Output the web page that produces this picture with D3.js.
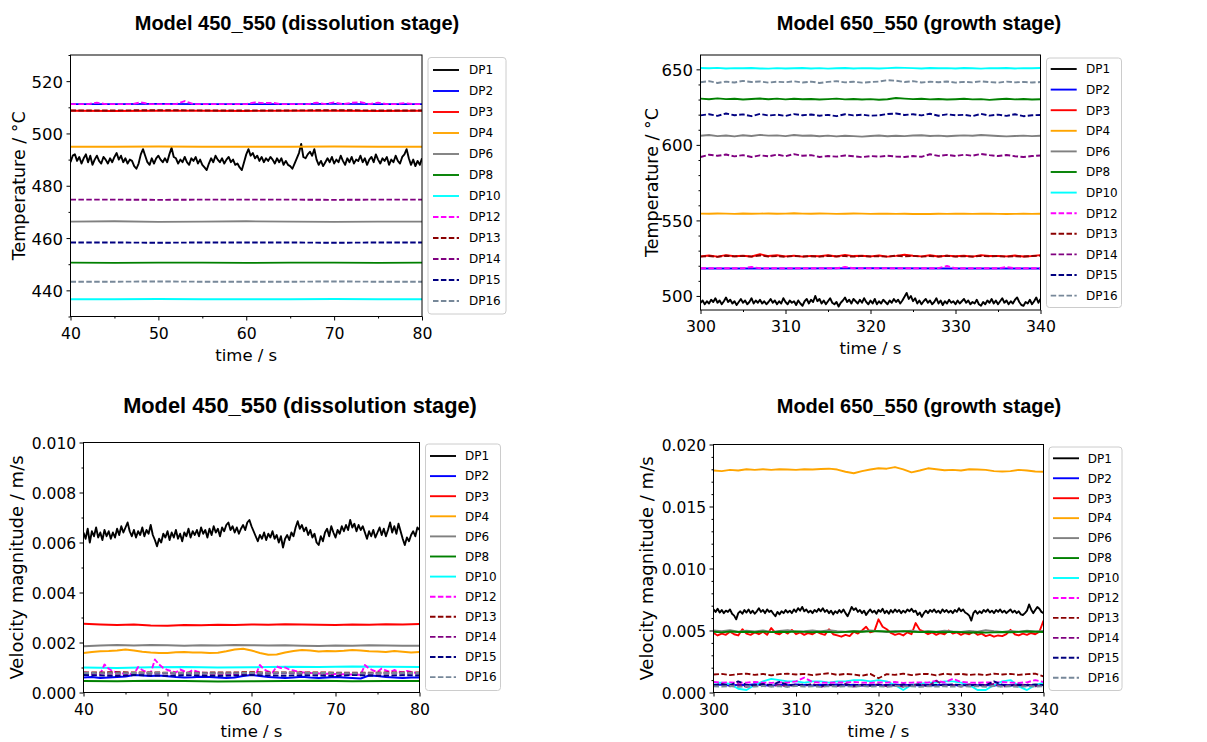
<!DOCTYPE html>
<html>
<head>
<meta charset="utf-8">
<script src="https://cdn.jsdelivr.net/npm/d3@7"></script>
<style>
  body { margin: 0; background: #fff; }
  svg { display: block; }
</style>
</head>
<body>
<script>
// ---------------- data ----------------
const dpNames = ["DP1", "DP2", "DP3", "DP4", "DP6", "DP8", "DP10", "DP12", "DP13", "DP14", "DP15", "DP16"];
const dpColors = ["#000000", "#0000ff", "#ff0000", "#ffa500", "#808080", "#008000", "#00ffff", "#ff00ff", "#8b0000", "#800080", "#000080", "#778899"];
const dpDashed = [false, false, false, false, false, false, false, true, true, true, true, true];

const span450 = [40, 80];
const span650 = [300, 340];
const xTicks450 = [40, 50, 60, 70, 80];
const xTicks650 = [300, 310, 320, 330, 340];

const temp450Domain = [430, 530];
const temp450Ticks = [440, 460, 480, 500, 520];
const temp650Domain = [490.7, 659.5];
const temp650Ticks = [500, 550, 600, 650];
const vel450Domain = [0, 0.010];
const vel450Ticks = [0, 0.002, 0.004, 0.006, 0.008, 0.010];
const vel650Domain = [0, 0.020];
const vel650Ticks = [0, 0.005, 0.010, 0.015, 0.020];

// temperature, model 450_550 (each series evenly spread over span450)
const temp450DP1 = [
  489.0,491.5,492.0,489.5,491.0,488.5,490.5,492.0,489.0,491.5,
  488.0,490.0,491.5,489.5,488.5,491.0,490.0,488.5,490.5,489.0,
  491.0,492.5,490.0,491.5,489.0,490.5,488.5,490.0,489.5,487.5,
  486.5,488.5,492.0,494.0,491.5,489.0,488.0,490.5,488.5,490.5,
  491.5,490.0,489.0,490.5,489.0,492.0,494.5,491.0,490.5,488.5,
  490.0,489.0,491.0,489.0,488.0,490.5,489.5,491.0,488.5,490.0,
  488.0,487.0,486.0,488.5,490.5,489.0,491.5,490.0,489.0,490.5,
  488.5,490.0,491.0,489.0,490.0,488.0,488.5,487.0,486.0,489.0,
  492.0,494.0,491.5,492.5,490.5,491.5,489.5,491.0,489.0,490.5,
  489.5,491.0,490.0,488.5,490.5,489.0,490.5,488.0,489.5,488.0,
  487.5,486.5,488.5,490.5,492.5,496.0,491.0,490.5,492.0,493.0,
  491.5,494.0,490.0,488.0,489.5,487.5,489.0,490.5,489.0,491.0,
  488.5,490.0,489.0,491.5,489.5,488.0,490.5,489.0,491.0,488.5,
  490.0,489.5,491.5,489.0,490.5,488.0,490.0,491.0,489.0,492.0,
  490.0,488.5,490.5,489.5,491.0,488.0,490.0,489.0,491.5,489.5,
  488.5,491.0,492.0,494.0,490.5,488.0,490.0,487.5,489.5,488.0,
  490.5
];
const temp450DP2 = [511.2, 511.2, 511.3, 511.2, 511.2, 511.2, 511.3, 511.2, 511.2];
const temp450DP3 = [508.7, 508.6, 508.7, 508.7, 508.6, 508.7, 508.7, 508.6, 508.7];
const temp450DP4 = [494.9, 494.9, 495.0, 494.9, 494.9, 494.9, 495.0, 494.9, 494.9];
const temp450DP6 = [466.3, 466.4, 466.2, 466.3, 466.4, 466.3, 466.2, 466.3, 466.3];
const temp450DP8 = [450.6, 450.5, 450.6, 450.6, 450.5, 450.6, 450.6, 450.5, 450.6];
const temp450DP10 = [436.6, 436.6, 436.7, 436.6, 436.6, 436.6, 436.7, 436.6, 436.6];
const temp450DP12 = [
  511.2,511.2,511.2,511.8,511.2,511.2,511.2,511.2,511.9,511.2,
  511.2,511.2,511.2,512.4,511.2,511.2,511.2,511.2,511.2,511.2,
  511.2,511.9,511.6,511.7,511.2,511.2,511.2,511.2,511.8,511.2,
  511.9,511.2,511.7,512.0,511.2,511.8,511.2,511.2,511.6,511.2,
  511.2
];
const temp450DP13 = [508.8, 508.8, 508.9, 508.8, 508.8, 508.8, 508.9, 508.8, 508.8];
const temp450DP14 = [474.7, 474.7, 474.6, 474.7, 474.7, 474.7, 474.6, 474.7, 474.7];
const temp450DP15 = [458.3, 458.3, 458.2, 458.3, 458.3, 458.3, 458.2, 458.3, 458.3];
const temp450DP16 = [443.3, 443.3, 443.4, 443.3, 443.3, 443.3, 443.4, 443.3, 443.3];

// temperature, model 650_550
const temp650DP1 = [
  495.5,497.0,494.5,496.5,495.0,497.5,496.0,498.5,495.5,497.0,
  494.5,496.5,499.0,496.0,497.5,495.0,496.5,494.0,496.0,498.0,
  495.5,497.0,494.5,496.0,498.5,495.0,497.0,495.5,497.5,495.0,
  496.5,494.5,496.0,498.0,495.5,497.0,494.5,496.5,495.0,498.5,
  496.0,494.5,497.0,495.5,496.5,494.0,497.0,495.0,493.5,496.5,
  498.0,495.0,497.5,496.0,500.0,496.5,498.0,495.0,497.0,494.5,
  496.5,498.5,495.5,494.5,496.0,493.0,495.5,497.0,499.0,496.0,
  497.5,495.0,498.0,496.5,495.0,497.5,495.5,498.5,496.0,494.5,
  497.0,495.0,498.0,494.5,496.5,495.0,497.5,496.0,494.5,497.0,
  495.5,498.0,496.0,497.5,495.0,497.0,499.5,502.0,498.0,500.0,
  496.5,498.5,495.0,497.0,494.5,496.5,498.0,495.5,497.0,494.5,
  496.0,498.5,495.0,497.0,494.0,496.5,495.0,497.5,495.5,496.5,
  494.5,497.0,495.0,496.5,498.0,495.5,497.0,494.5,496.0,495.0,
  497.5,494.5,493.5,496.0,494.5,497.0,495.5,498.0,495.0,497.0,
  494.5,496.5,498.5,495.5,497.0,494.5,496.5,495.0,497.5,499.0,
  496.0,494.0,493.5,496.0,495.0,497.5,494.5,496.5,499.0,495.5,
  498.0
];
const temp650DP2 = [518.2, 518.2, 518.3, 518.2, 518.2];
const temp650DP3 = [
  526.2,526.8,526.0,527.0,526.3,526.6,526.1,527.6,526.4,526.9,
  526.2,526.7,526.0,526.5,526.3,526.9,526.1,527.2,526.4,526.6,
  526.2,526.8,526.0,526.5,527.3,526.6,526.2,526.9,526.1,526.7,
  526.3,526.6,526.0,527.0,526.4,526.5,526.2,526.8,526.1,526.4,
  527.0
];
const temp650DP4 = [
  554.5,554.4,554.6,554.5,554.3,554.6,554.4,554.5,554.6,554.4,
  554.5,554.7,554.5,554.4,554.6,554.5,554.3,554.4,554.6,554.5,
  554.3,554.4,554.5,554.3,554.4,554.2,554.3,554.2,554.4,554.3,
  554.5,554.4,554.3,554.5,554.4,554.3,554.2,554.3,554.4,554.3,
  554.4
];
const temp650DP6 = [
  606.0,606.5,605.8,606.2,605.6,606.4,605.9,606.6,606.1,606.3,
  605.8,606.5,606.0,606.2,605.7,606.1,605.6,606.0,605.8,605.5,
  605.9,606.2,605.7,606.0,605.8,606.2,606.4,605.9,606.1,605.7,
  606.0,606.3,606.0,606.5,606.2,605.9,605.6,605.9,606.1,605.8,
  606.0
];
const temp650DP8 = [
  630.6,630.2,630.8,630.3,630.5,630.0,630.4,630.7,630.2,630.6,
  630.1,630.5,630.2,630.4,630.0,630.3,630.6,630.1,630.4,630.0,
  630.3,629.9,630.2,631.0,630.6,630.3,630.5,630.1,630.4,630.0,
  630.2,630.5,630.1,630.3,629.8,630.2,630.5,630.1,630.4,630.0,
  630.2
];
const temp650DP10 = [
  650.9,650.7,651.0,650.6,650.8,650.7,650.9,650.6,650.5,650.8,
  650.6,650.7,650.9,650.6,650.8,650.5,650.7,650.9,650.6,650.8,
  650.7,650.6,650.8,651.1,651.0,650.8,650.6,650.9,650.7,650.8,
  650.6,650.9,650.7,650.5,650.8,650.7,650.9,650.6,650.8,650.7,
  650.9
];
const temp650DP12 = [
  518.3,518.3,518.4,518.3,518.3,518.3,519.2,518.3,518.3,518.4,
  518.3,518.3,518.3,518.3,518.4,518.3,518.3,519.2,518.3,518.3,
  518.3,518.3,518.4,518.3,518.3,518.3,518.3,518.3,518.4,519.8,
  518.3,518.3,518.3,518.4,518.3,518.3,519.1,518.3,518.3,518.3,
  518.3
];
const temp650DP13 = [
  526.0,526.4,525.9,526.6,526.2,526.5,526.0,526.8,526.1,526.4,
  525.9,526.5,526.1,526.3,526.0,526.6,526.2,526.4,526.0,526.5,
  526.1,526.3,526.0,526.7,526.2,526.5,526.0,526.4,526.1,526.6,
  526.0,526.3,526.1,526.5,526.2,526.4,526.0,526.3,526.1,526.4,
  526.6
];
const temp650DP14 = [
  592.0,593.5,592.8,593.6,592.4,593.2,592.0,593.1,592.4,593.6,
  592.5,593.9,592.8,593.2,592.0,592.6,592.2,593.0,592.5,591.9,
  592.6,592.2,592.8,592.3,592.0,592.6,592.1,593.8,592.7,593.4,
  592.6,593.5,592.8,594.0,593.2,592.6,593.3,592.5,592.0,592.6,
  593.0
];
const temp650DP15 = [
  619.5,620.3,619.2,620.8,619.6,620.2,619.0,620.5,619.4,620.0,
  619.2,620.4,619.6,620.1,619.3,619.9,619.0,620.3,619.5,620.0,
  619.3,619.6,620.4,620.8,619.8,620.3,619.5,620.6,619.3,620.2,
  619.6,619.9,619.1,620.5,619.4,620.0,619.2,620.3,619.0,619.6,
  619.8
];
const temp650DP16 = [
  641.5,642.2,641.0,641.9,641.3,642.4,641.6,642.0,641.2,641.8,
  641.5,642.1,641.3,641.9,641.0,641.7,642.2,641.4,641.8,641.2,
  641.6,641.9,642.8,642.5,641.6,642.2,641.3,641.8,641.5,642.0,
  641.2,641.7,641.4,642.1,641.6,641.2,641.9,641.4,641.7,641.3,
  641.6
];

// velocity magnitude, model 450_550
const vel450DP1 = [
  0.00640,0.00615,0.00655,0.00600,0.00645,0.00625,0.00660,0.00620,0.00640,0.00610,
  0.00650,0.00625,0.00645,0.00615,0.00640,0.00620,0.00655,0.00630,0.00665,0.00640,
  0.00660,0.00680,0.00645,0.00625,0.00650,0.00620,0.00645,0.00630,0.00660,0.00625,
  0.00650,0.00635,0.00670,0.00630,0.00610,0.00585,0.00615,0.00600,0.00635,0.00620,
  0.00645,0.00610,0.00640,0.00620,0.00650,0.00615,0.00635,0.00605,0.00640,0.00625,
  0.00655,0.00620,0.00645,0.00630,0.00650,0.00625,0.00660,0.00635,0.00650,0.00620,
  0.00655,0.00630,0.00665,0.00640,0.00655,0.00625,0.00660,0.00645,0.00670,0.00680,
  0.00650,0.00665,0.00640,0.00660,0.00635,0.00655,0.00670,0.00650,0.00680,0.00690,
  0.00665,0.00645,0.00625,0.00605,0.00630,0.00615,0.00640,0.00610,0.00635,0.00620,
  0.00645,0.00615,0.00630,0.00600,0.00625,0.00580,0.00615,0.00630,0.00610,0.00640,
  0.00625,0.00660,0.00685,0.00655,0.00670,0.00645,0.00660,0.00630,0.00650,0.00620,
  0.00635,0.00600,0.00590,0.00625,0.00605,0.00640,0.00655,0.00625,0.00665,0.00640,
  0.00620,0.00650,0.00635,0.00665,0.00645,0.00670,0.00650,0.00690,0.00660,0.00675,
  0.00645,0.00670,0.00650,0.00665,0.00640,0.00615,0.00645,0.00625,0.00650,0.00620,
  0.00640,0.00660,0.00630,0.00655,0.00625,0.00650,0.00680,0.00640,0.00665,0.00635,
  0.00675,0.00645,0.00615,0.00590,0.00620,0.00605,0.00630,0.00645,0.00625,0.00660,
  0.00650
];
const vel450DP2 = [
  0.00060,0.00062,0.00058,0.00060,0.00062,0.00064,0.00070,0.00068,0.00066,0.00068,
  0.00065,0.00062,0.00060,0.00061,0.00063,0.00062,0.00060,0.00058,0.00060,0.00066,
  0.00070,0.00066,0.00062,0.00060,0.00058,0.00060,0.00063,0.00060,0.00058,0.00060,
  0.00062,0.00060,0.00058,0.00056,0.00068,0.00066,0.00062,0.00060,0.00058,0.00060,
  0.00060
];
const vel450DP3 = [
  0.00275,0.00272,0.00270,0.00272,0.00268,0.00267,0.00270,0.00269,0.00271,0.00270,
  0.00272,0.00271,0.00273,0.00272,0.00271,0.00270,0.00272,0.00271,0.00273,0.00272,
  0.00274
];
const vel450DP4 = [
  0.00158,0.00162,0.00165,0.00166,0.00168,0.00172,0.00168,0.00163,0.00160,0.00158,
  0.00158,0.00161,0.00162,0.00160,0.00160,0.00158,0.00159,0.00165,0.00172,0.00175,
  0.00168,0.00158,0.00151,0.00152,0.00160,0.00166,0.00170,0.00168,0.00164,0.00166,
  0.00165,0.00167,0.00170,0.00168,0.00165,0.00164,0.00162,0.00166,0.00163,0.00160,
  0.00162
];
const vel450DP6 = [
  0.00185,0.00188,0.00190,0.00188,0.00190,0.00189,0.00187,0.00189,0.00188,0.00190,
  0.00189,0.00188,0.00189,0.00187,0.00186,0.00188,0.00187,0.00189,0.00188,0.00187,
  0.00187
];
const vel450DP8 = [0.00046, 0.00045, 0.00047, 0.00046, 0.00044, 0.00045, 0.00046, 0.00047, 0.00045, 0.00046, 0.00046];
const vel450DP10 = [0.00100, 0.00098, 0.00101, 0.00102, 0.00100, 0.00101, 0.00103, 0.00102, 0.00104, 0.00103, 0.00102];
const vel450DP12 = [
  0.00080,0.00078,0.00076,0.00075,0.00074,0.00112,0.00095,0.00085,0.00080,0.00077,
  0.00075,0.00074,0.00073,0.00102,0.00090,0.00082,0.00078,0.00132,0.00112,0.00098,
  0.00090,0.00085,0.00080,0.00092,0.00085,0.00080,0.00090,0.00084,0.00080,0.00078,
  0.00077,0.00076,0.00075,0.00075,0.00074,0.00074,0.00073,0.00073,0.00072,0.00072,
  0.00072,0.00071,0.00110,0.00092,0.00084,0.00080,0.00104,0.00098,0.00100,0.00092,
  0.00088,0.00084,0.00081,0.00079,0.00078,0.00077,0.00076,0.00075,0.00075,0.00074,
  0.00074,0.00073,0.00073,0.00072,0.00072,0.00071,0.00071,0.00110,0.00096,0.00088,
  0.00082,0.00096,0.00088,0.00082,0.00090,0.00084,0.00080,0.00086,0.00082,0.00079,
  0.00077
];
const vel450DP13 = [0.00080, 0.00081, 0.00080, 0.00079, 0.00080, 0.00081, 0.00080, 0.00080, 0.00079, 0.00080, 0.00080];
const vel450DP14 = [0.00076, 0.00075, 0.00077, 0.00076, 0.00075, 0.00076, 0.00077, 0.00076, 0.00075, 0.00076, 0.00076];
const vel450DP15 = [
  0.00070,0.00068,0.00066,0.00070,0.00068,0.00067,0.00069,0.00068,0.00066,0.00068,
  0.00070,0.00068,0.00067,0.00069,0.00068,0.00066,0.00070,0.00068,0.00067,0.00069,
  0.00068
];
const vel450DP16 = [0.00078, 0.00077, 0.00079, 0.00078, 0.00077, 0.00078, 0.00079, 0.00078, 0.00077, 0.00078, 0.00078];

// velocity magnitude, model 650_550
const vel650DP1 = [
  0.00670,0.00650,0.00675,0.00645,0.00665,0.00640,0.00660,0.00650,0.00670,0.00635,
  0.00620,0.00590,0.00640,0.00655,0.00635,0.00665,0.00645,0.00670,0.00640,0.00660,
  0.00635,0.00655,0.00680,0.00650,0.00665,0.00640,0.00670,0.00650,0.00660,0.00635,
  0.00615,0.00650,0.00630,0.00655,0.00640,0.00665,0.00645,0.00660,0.00640,0.00670,
  0.00650,0.00680,0.00660,0.00690,0.00655,0.00670,0.00645,0.00660,0.00640,0.00665,
  0.00650,0.00675,0.00655,0.00680,0.00650,0.00665,0.00640,0.00660,0.00630,0.00655,
  0.00640,0.00665,0.00645,0.00670,0.00640,0.00615,0.00650,0.00690,0.00665,0.00680,
  0.00650,0.00665,0.00640,0.00660,0.00625,0.00650,0.00670,0.00645,0.00660,0.00635,
  0.00665,0.00650,0.00675,0.00640,0.00660,0.00635,0.00665,0.00645,0.00670,0.00650,
  0.00665,0.00640,0.00660,0.00645,0.00670,0.00655,0.00675,0.00650,0.00660,0.00625,
  0.00645,0.00610,0.00640,0.00660,0.00640,0.00665,0.00650,0.00670,0.00645,0.00660,
  0.00640,0.00670,0.00650,0.00665,0.00645,0.00660,0.00640,0.00665,0.00650,0.00680,
  0.00655,0.00670,0.00645,0.00635,0.00620,0.00580,0.00640,0.00660,0.00635,0.00655,
  0.00640,0.00665,0.00650,0.00670,0.00645,0.00660,0.00640,0.00665,0.00650,0.00670,
  0.00645,0.00660,0.00640,0.00655,0.00670,0.00645,0.00660,0.00640,0.00655,0.00630,
  0.00625,0.00640,0.00660,0.00710,0.00670,0.00640,0.00665,0.00690,0.00675,0.00650,
  0.00640
];
const vel650DP2 = [
  0.00060,0.00065,0.00055,0.00062,0.00058,0.00066,0.00060,0.00055,0.00063,0.00058,
  0.00064,0.00060,0.00056,0.00062,0.00059,0.00065,0.00058,0.00062,0.00056,0.00063,
  0.00060,0.00057,0.00064,0.00059,0.00062,0.00056,0.00061,0.00058,0.00065,0.00060,
  0.00057,0.00063,0.00058,0.00061,0.00056,0.00062,0.00059,0.00064,0.00058,0.00061,
  0.00060
];
const vel650DP3 = [
  0.00480,0.00460,0.00475,0.00465,0.00490,0.00470,0.00460,0.00510,0.00475,0.00465,
  0.00485,0.00470,0.00490,0.00465,0.00520,0.00480,0.00470,0.00495,0.00475,0.00505,
  0.00470,0.00485,0.00465,0.00480,0.00470,0.00490,0.00475,0.00465,0.00510,0.00470,
  0.00460,0.00450,0.00465,0.00455,0.00490,0.00475,0.00500,0.00530,0.00485,0.00495,
  0.00590,0.00530,0.00510,0.00480,0.00465,0.00475,0.00460,0.00485,0.00470,0.00560,
  0.00505,0.00490,0.00470,0.00485,0.00465,0.00480,0.00470,0.00500,0.00475,0.00485,
  0.00465,0.00480,0.00470,0.00490,0.00465,0.00475,0.00455,0.00465,0.00450,0.00460,
  0.00455,0.00470,0.00505,0.00470,0.00460,0.00475,0.00465,0.00480,0.00470,0.00490,
  0.00580
];
const vel650DP4 = [
  0.01790,0.01785,0.01795,0.01790,0.01800,0.01795,0.01800,0.01795,0.01800,0.01798,
  0.01795,0.01800,0.01798,0.01802,0.01805,0.01798,0.01780,0.01768,0.01785,0.01798,
  0.01808,0.01805,0.01818,0.01800,0.01775,0.01790,0.01808,0.01800,0.01792,0.01795,
  0.01790,0.01800,0.01798,0.01795,0.01785,0.01782,0.01785,0.01795,0.01790,0.01782,
  0.01780
];
const vel650DP6 = [
  0.00500,0.00495,0.00502,0.00490,0.00498,0.00492,0.00500,0.00488,0.00496,0.00502,
  0.00490,0.00494,0.00500,0.00492,0.00503,0.00495,0.00490,0.00497,0.00492,0.00500,
  0.00494,0.00488,0.00496,0.00492,0.00499,0.00491,0.00495,0.00490,0.00498,0.00492,
  0.00488,0.00496,0.00490,0.00502,0.00494,0.00489,0.00497,0.00490,0.00498,0.00493,
  0.00496
];
const vel650DP8 = [
  0.00490,0.00485,0.00492,0.00488,0.00490,0.00486,0.00491,0.00487,0.00490,0.00488,
  0.00492,0.00489,0.00486,0.00490,0.00488,0.00485,0.00489,0.00492,0.00490,0.00493,
  0.00495,0.00492,0.00489,0.00495,0.00490,0.00487,0.00490,0.00488,0.00486,0.00489,
  0.00487,0.00484,0.00486,0.00483,0.00485,0.00488,0.00486,0.00489,0.00492,0.00490,
  0.00488
];
const vel650DP10 = [
  0.00080,0.00080,0.00070,0.00030,0.00020,0.00060,0.00090,0.00110,0.00100,0.00090,
  0.00090,0.00080,0.00090,0.00090,0.00080,0.00090,0.00090,0.00100,0.00100,0.00090,
  0.00100,0.00090,0.00060,0.00020,0.00060,0.00070,0.00080,0.00080,0.00090,0.00090,
  0.00080,0.00060,0.00020,0.00020,0.00060,0.00090,0.00100,0.00050,0.00020,0.00060,
  0.00080
];
const vel650DP12 = [
  0.00085,0.00080,0.00082,0.00078,0.00080,0.00085,0.00080,0.00078,0.00082,0.00080,
  0.00090,0.00120,0.00085,0.00080,0.00078,0.00082,0.00080,0.00085,0.00080,0.00078,
  0.00082,0.00080,0.00085,0.00078,0.00080,0.00082,0.00080,0.00095,0.00082,0.00110,
  0.00085,0.00080,0.00078,0.00082,0.00080,0.00085,0.00080,0.00078,0.00082,0.00100,
  0.00085
];
const vel650DP13 = [
  0.00145,0.00150,0.00140,0.00148,0.00152,0.00142,0.00150,0.00138,0.00148,0.00152,
  0.00145,0.00150,0.00140,0.00148,0.00155,0.00142,0.00150,0.00145,0.00135,0.00150,
  0.00115,0.00148,0.00142,0.00152,0.00140,0.00148,0.00150,0.00138,0.00152,0.00145,
  0.00150,0.00142,0.00148,0.00140,0.00152,0.00145,0.00150,0.00142,0.00148,0.00152,
  0.00130
];
const vel650DP14 = [
  0.00055,0.00070,0.00050,0.00065,0.00045,0.00060,0.00070,0.00050,0.00062,0.00048,
  0.00065,0.00055,0.00070,0.00045,0.00060,0.00052,0.00068,0.00048,0.00060,0.00055,
  0.00065,0.00050,0.00062,0.00045,0.00058,0.00068,0.00050,0.00095,0.00055,0.00062,
  0.00048,0.00065,0.00052,0.00060,0.00070,0.00045,0.00062,0.00055,0.00065,0.00050,
  0.00060
];
const vel650DP15 = [
  0.00060,0.00065,0.00058,0.00090,0.00062,0.00058,0.00066,0.00060,0.00085,0.00062,
  0.00058,0.00064,0.00060,0.00056,0.00062,0.00059,0.00065,0.00058,0.00062,0.00056,
  0.00063,0.00060,0.00057,0.00064,0.00059,0.00062,0.00056,0.00061,0.00058,0.00065,
  0.00060,0.00057,0.00063,0.00058,0.00090,0.00061,0.00056,0.00062,0.00059,0.00064,
  0.00060
];
const vel650DP16 = [
  0.00050,0.00048,0.00052,0.00045,0.00050,0.00047,0.00052,0.00048,0.00050,0.00046,
  0.00052,0.00048,0.00050,0.00045,0.00051,0.00048,0.00050,0.00047,0.00052,0.00048,
  0.00050,0.00046,0.00052,0.00048,0.00050,0.00045,0.00051,0.00048,0.00050,0.00047,
  0.00052,0.00048,0.00050,0.00046,0.00052,0.00048,0.00050,0.00045,0.00051,0.00048,
  0.00050
];

// ---------------- panels ----------------
const panels = [
  {
    title: "Model 450_550 (dissolution stage)", titleX: 297, titleY: 30, titleSize: 20,
    yLabel: "Temperature / °C", yLabelX: 25, yLabelSize: 17.5, yTickSize: 16.5,
    span: span450, xTicks: xTicks450, xMinor: 5,
    yDomain: temp450Domain, yTicks: temp450Ticks, yMinor: 10, fmt: d3.format("d"),
    frame: { x0: 70.5, x1: 422, y0: 55, y1: 316.5 },
    legend: { x0: 428, x1: 506, y0: 57.5, y1: 314, first: 70, gap: 21, lineX: 433, textX: 469 },
    series: [temp450DP1, temp450DP2, temp450DP3, temp450DP4, temp450DP6, temp450DP8,
             temp450DP10, temp450DP12, temp450DP13, temp450DP14, temp450DP15, temp450DP16]
  },
  {
    title: "Model 650_550 (growth stage)", titleX: 919, titleY: 30, titleSize: 20,
    yLabel: "Temperature / °C", yLabelX: 657.5, yLabelSize: 17.5, yTickSize: 16.5,
    span: span650, xTicks: xTicks650, xMinor: 5,
    yDomain: temp650Domain, yTicks: temp650Ticks, yMinor: 10, fmt: d3.format("d"),
    frame: { x0: 700.5, x1: 1040.5, y0: 55, y1: 310 },
    legend: { x0: 1046.5, x1: 1121.5, y0: 58, y1: 307.5, first: 69, gap: 20.6, lineX: 1050.7, textX: 1086 },
    series: [temp650DP1, temp650DP2, temp650DP3, temp650DP4, temp650DP6, temp650DP8,
             temp650DP10, temp650DP12, temp650DP13, temp650DP14, temp650DP15, temp650DP16]
  },
  {
    title: "Model 450_550 (dissolution stage)", titleX: 300, titleY: 413, titleSize: 21.8,
    yLabel: "Velocity magnitude / m/s", yLabelX: 23, yLabelSize: 18, yTickSize: 15.5,
    span: span450, xTicks: xTicks450, xMinor: 5,
    yDomain: vel450Domain, yTicks: vel450Ticks, yMinor: 0.001, fmt: d3.format(".3f"),
    frame: { x0: 83.5, x1: 419.5, y0: 442.5, y1: 692.5 },
    legend: { x0: 425.5, x1: 500.5, y0: 444, y1: 690.5, first: 456, gap: 20.1, lineX: 430, textX: 465 },
    series: [vel450DP1, vel450DP2, vel450DP3, vel450DP4, vel450DP6, vel450DP8,
             vel450DP10, vel450DP12, vel450DP13, vel450DP14, vel450DP15, vel450DP16]
  },
  {
    title: "Model 650_550 (growth stage)", titleX: 919, titleY: 413, titleSize: 20,
    yLabel: "Velocity magnitude / m/s", yLabelX: 653, yLabelSize: 18, yTickSize: 15.5,
    span: span650, xTicks: xTicks650, xMinor: 5,
    yDomain: vel650Domain, yTicks: vel650Ticks, yMinor: 0.001, fmt: d3.format(".3f"),
    frame: { x0: 713.5, x1: 1043.5, y0: 444.5, y1: 692.5 },
    legend: { x0: 1049, x1: 1122, y0: 447, y1: 690.5, first: 458.3, gap: 19.95, lineX: 1053, textX: 1087.7 },
    series: [vel650DP1, vel650DP2, vel650DP3, vel650DP4, vel650DP6, vel650DP8,
             vel650DP10, vel650DP12, vel650DP13, vel650DP14, vel650DP15, vel650DP16]
  }
];

const FONT = "DejaVu Sans, sans-serif";
const TITLE_FONT = "Liberation Sans, Arial, sans-serif";
const DASH = "5.5,2.4";
const LW = 1.9;

const svg = d3.select("body").append("svg")
  .attr("width", 1207)
  .attr("height", 742);

svg.append("rect").attr("width", 1207).attr("height", 742).attr("fill", "#fff");

// minor ticks between the majors
function minorTicks(domain, step, majors) {
  const lo = Math.ceil(domain[0] / step - 1e-9), hi = Math.floor(domain[1] / step + 1e-9);
  return d3.range(lo, hi + 1).map((k) => k * step)
    .filter((v) => !majors.some((m) => Math.abs(m - v) < step * 1e-3));
}

panels.forEach((p, pi) => {
  const f = p.frame;
  const x = d3.scaleLinear().domain(p.span).range([f.x0, f.x1]);
  const y = d3.scaleLinear().domain(p.yDomain).range([f.y1, f.y0]);
  const g = svg.append("g");

  g.append("clipPath").attr("id", "clip" + pi)
    .append("rect")
    .attr("x", f.x0).attr("y", f.y0)
    .attr("width", f.x1 - f.x0).attr("height", f.y1 - f.y0);

  const line = d3.line().x((d) => x(d[0])).y((d) => y(d[1]));
  const lines = g.append("g").attr("clip-path", `url(#clip${pi})`);

  // series, DP1 first so later ones sit on top (as in the original)
  p.series.forEach((vals, i) => {
    const step = (p.span[1] - p.span[0]) / (vals.length - 1);
    const pts = vals.map((v, k) => [p.span[0] + k * step, v]);
    lines.append("path")
      .attr("d", line(pts))
      .attr("fill", "none")
      .attr("stroke", dpColors[i])
      .attr("stroke-width", LW)
      .attr("stroke-linejoin", "round")
      .attr("stroke-dasharray", dpDashed[i] ? DASH : null);
  });

  // axes
  const yAxis = g.append("g")
    .attr("transform", `translate(${f.x0},0)`)
    .call(d3.axisLeft(y).tickValues(p.yTicks).tickFormat(p.fmt).tickSize(4).tickPadding(3.4));
  yAxis.append("g")
    .call(d3.axisLeft(y).tickValues(minorTicks(p.yDomain, p.yMinor, p.yTicks)).tickSize(2).tickFormat(""));

  const xAxis = g.append("g")
    .attr("transform", `translate(0,${f.y1})`)
    .call(d3.axisBottom(x).tickValues(p.xTicks).tickFormat(d3.format("d")).tickSize(4).tickPadding(7));
  xAxis.append("g")
    .call(d3.axisBottom(x).tickValues(minorTicks(p.span, p.xMinor, p.xTicks)).tickSize(2).tickFormat(""));

  g.selectAll(".domain").remove();
  yAxis.selectAll("text").attr("font-family", FONT).attr("font-size", p.yTickSize).attr("fill", "#000").attr("dy", "0.36em");
  xAxis.selectAll("text").attr("font-family", FONT).attr("font-size", 15.7).attr("fill", "#000");
  g.selectAll(".tick line").attr("stroke", "#000").attr("stroke-width", 1);

  // frame
  g.append("rect")
    .attr("x", f.x0).attr("y", f.y0)
    .attr("width", f.x1 - f.x0).attr("height", f.y1 - f.y0)
    .attr("fill", "none").attr("stroke", "#000").attr("stroke-width", 1);

  // labels
  g.append("text")
    .attr("x", (f.x0 + f.x1) / 2).attr("y", f.y1 + 44)
    .attr("text-anchor", "middle")
    .attr("font-family", FONT).attr("font-size", 16.5)
    .text("time / s");

  g.append("text")
    .attr("transform", `translate(${p.yLabelX},${(f.y0 + f.y1) / 2}) rotate(-90)`)
    .attr("text-anchor", "middle")
    .attr("font-family", FONT).attr("font-size", p.yLabelSize)
    .text(p.yLabel);

  g.append("text")
    .attr("x", p.titleX).attr("y", p.titleY)
    .attr("text-anchor", "middle")
    .attr("font-family", TITLE_FONT).attr("font-weight", "bold").attr("font-size", p.titleSize)
    .text(p.title);

  // legend
  const L = p.legend;
  const lg = g.append("g");
  lg.append("rect")
    .attr("x", L.x0).attr("y", L.y0)
    .attr("width", L.x1 - L.x0).attr("height", L.y1 - L.y0)
    .attr("rx", 3)
    .attr("fill", "#fff").attr("fill-opacity", 0.8)
    .attr("stroke", "#cccccc").attr("stroke-width", 1);

  dpNames.forEach((name, i) => {
    const cy = L.first + i * L.gap;
    lg.append("line")
      .attr("x1", L.lineX).attr("x2", L.lineX + 26)
      .attr("y1", cy).attr("y2", cy)
      .attr("stroke", dpColors[i]).attr("stroke-width", LW)
      .attr("stroke-dasharray", dpDashed[i] ? DASH : null);
    lg.append("text")
      .attr("x", L.textX).attr("y", cy).attr("dy", "0.36em")
      .attr("font-family", FONT).attr("font-size", 12)
      .text(name);
  });
});
</script>
</body>
</html>
